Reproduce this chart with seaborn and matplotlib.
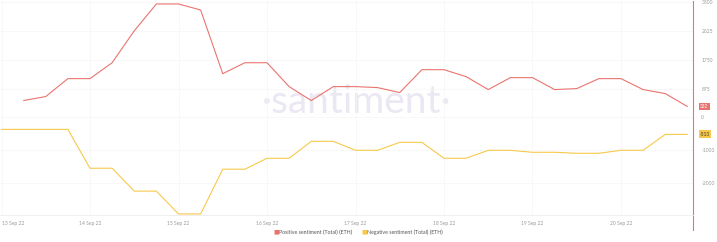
import numpy as np
import pandas as pd
import matplotlib
matplotlib.use("Agg")
import matplotlib.pyplot as plt
import matplotlib.dates as mdates
import seaborn as sns

# ---- data ----
positive_values = [513, 634, 1177, 1177, 1659, 2625, 3440, 3440, 3258, 1327, 1659,
                   1659, 935, 513, 935, 935, 905, 754, 1448, 1448, 1237, 845,
                   1207, 1207, 845, 875, 1177, 1177, 845, 724, 332]
negative_values = [-362, -362, -362, -362, -1539, -1539, -2233, -2233, -2926, -2926,
                   -1569, -1569, -1237, -1237, -724, -724, -996, -996, -754, -754,
                   -1237, -1237, -996, -996, -1056, -1056, -1086, -1086, -996, -996,
                   -513, -513]
positive_start = "2022-09-13 06:00"
negative_start = "2022-09-13 00:00"
tick_days = ["2022-09-13", "2022-09-14", "2022-09-15", "2022-09-16",
             "2022-09-17", "2022-09-18", "2022-09-19", "2022-09-20"]
tick_labels = ["13 Sep 22", "14 Sep 22", "15 Sep 22", "16 Sep 22",
               "17 Sep 22", "18 Sep 22", "19 Sep 22", "20 Sep 22"]
y_ticks = [3500, 2625, 1750, 875, 0, -1000, -2000]
y_tick_labels = ["3500", "2625", "1750", "875", "0", "-1000", "-2000"]
pos_label = "Positive sentiment (Total) (ETH)"
neg_label = "Negative sentiment (Total) (ETH)"

RED = "#e9746f"
YEL = "#f7c94a"

pos_df = pd.DataFrame({"time": pd.date_range(positive_start, periods=len(positive_values), freq="6h"),
                       "value": positive_values})
neg_df = pd.DataFrame({"time": pd.date_range(negative_start, periods=len(negative_values), freq="6h"),
                       "value": negative_values})

sns.set_style("white")
plt.rcParams["font.family"] = ["Lato", "DejaVu Sans"]

fig = plt.figure(figsize=(7.17, 2.42), dpi=100)
ax = fig.add_axes([0, (242 - 215) / 242, 693 / 717, 214 / 242])

# watermark
ax.text(0.515, 0.53, "·santiment·", transform=ax.transAxes, ha="center", va="center",
        fontsize=28, color="#ebe8f3", fontweight="normal", zorder=0)

sns.lineplot(data=pos_df, x="time", y="value", ax=ax, color=RED, linewidth=0.8, zorder=3)
sns.lineplot(data=neg_df, x="time", y="value", ax=ax, color=YEL, linewidth=0.8, zorder=3)

t0 = pd.Timestamp("2022-09-13 00:00")
x_left = t0 + pd.Timedelta(days=-1.5 / 88.5)
x_right = t0 + pd.Timedelta(days=(693 - 1.5) / 88.5)
ax.set_xlim(mdates.date2num(x_left), mdates.date2num(x_right))
per_px = 3500 / 116
ax.set_ylim(-98 * per_px, 116 * per_px + 1 * per_px)

ax.set_xlabel("")
ax.set_ylabel("")
ax.set_xticks([mdates.date2num(pd.Timestamp(d)) for d in tick_days])
ax.set_xticklabels(tick_labels, fontsize=3.6, color="#9a9a9a")
ax.get_xticklabels()[0].set_ha("left")
ax.tick_params(axis="x", length=0, pad=4)
ax.set_yticks(y_ticks)
ax.yaxis.tick_right()
ax.set_yticklabels(y_tick_labels, fontsize=3.6, color="#9a9a9a")
ax.tick_params(axis="y", length=0, pad=6)
for lab in ax.get_yticklabels():
    lab.set_ha("left")

ax.grid(True, color="#f5f5f5", linewidth=0.5)
for side in ["top", "left"]:
    ax.spines[side].set_visible(False)
ax.spines["bottom"].set_color("#ececec")
ax.spines["bottom"].set_linewidth(0.6)
ax.spines["right"].set_color(RED)
ax.spines["right"].set_linewidth(0.8)
ax.spines["right"].set_bounds(-98 * per_px - 15 * per_px, 117 * per_px)
ax.spines["right"].set_clip_on(False)

# last-value badges
ax.annotate(str(positive_values[-1]), xy=(1, positive_values[-1]), xycoords=("axes fraction", "data"),
            xytext=(5, 0), textcoords="offset points", fontsize=3.4, color="white", va="center",
            ha="left", bbox=dict(boxstyle="square,pad=0.3", fc=RED, ec="none"))
ax.annotate(str(negative_values[-1]), xy=(1, negative_values[-1]), xycoords=("axes fraction", "data"),
            xytext=(5, 0), textcoords="offset points", fontsize=3.4, color="#333333", va="center",
            ha="left", bbox=dict(boxstyle="square,pad=0.3", fc=YEL, ec="none"))

# legend
ly = 1 - 232 / 242
fig.text(273 / 717, ly, "■", color=RED, fontsize=4.2, va="center", ha="left")
fig.text(279 / 717, ly, pos_label, color="#555555", fontsize=3.8, va="center", ha="left")
fig.text(361 / 717, ly, "■", color=YEL, fontsize=4.2, va="center", ha="left")
fig.text(367 / 717, ly, neg_label, color="#555555", fontsize=3.8, va="center", ha="left")

fig.savefig("out.png", dpi=100, facecolor="white")
